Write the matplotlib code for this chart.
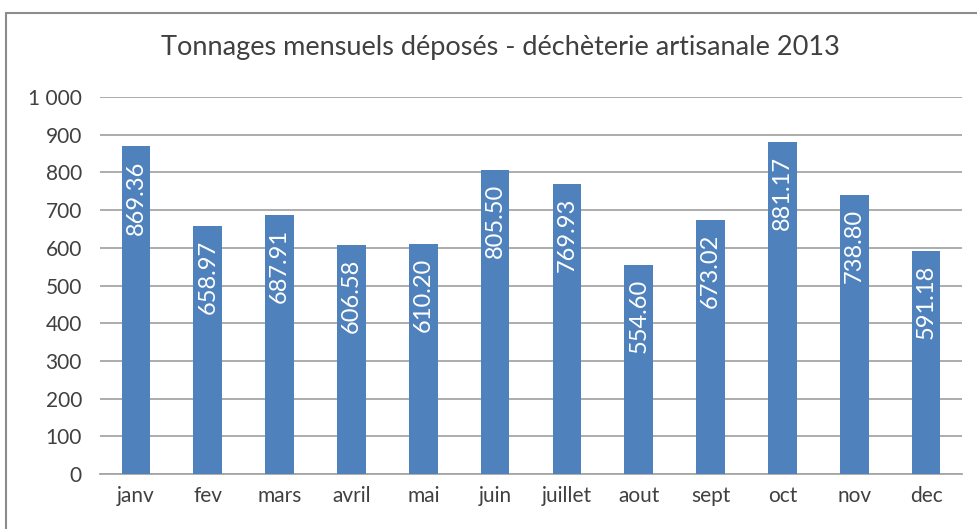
import matplotlib
matplotlib.use("Agg")
import matplotlib.pyplot as plt
from matplotlib.patches import Rectangle

# Monthly tonnages 2013
months = ["janv", "fev", "mars", "avril", "mai", "juin",
          "juillet", "aout", "sept", "oct", "nov", "dec"]
tonnages = [869.36, 658.97, 687.91, 606.58, 610.20, 805.50,
            769.93, 554.60, 673.02, 881.17, 738.80, 591.18]
y_ticks = [0, 100, 200, 300, 400, 500, 600, 700, 800, 900, 1000]
y_tick_labels = ["0", "100", "200", "300", "400", "500",
                 "600", "700", "800", "900", "1 000"]

plt.rcParams['font.family'] = ['Lato', 'DejaVu Sans']
text_col = "#404040"
bar_col = "#4F81BD"

fig = plt.figure(figsize=(9.77, 5.29), dpi=100)
ax = fig.add_axes([0.1024, 0.104, 0.8822, 0.7126])

# outer chart frame (cut off at right and bottom)
fig.patches.append(Rectangle((6 / 977, -0.1), 1.2, 1.1 - 13 / 529,
                             transform=fig.transFigure, fill=False,
                             edgecolor="#8C8C8C", linewidth=1.5))

x = range(len(months))
bars = ax.bar(x, tonnages, width=0.4, color=bar_col, zorder=3)

for xi, v in zip(x, tonnages):
    ax.annotate(f"{v:.2f}", (xi, v), xytext=(0, -10), textcoords="offset points",
                rotation=90, ha="center", va="top", color="white",
                fontsize=17, zorder=4)

ax.set_xlim(-0.5, len(months) - 0.5)
ax.set_ylim(0, 1000)
ax.set_yticks(y_ticks)
ax.set_yticklabels(y_tick_labels)
ax.set_xticks(list(x))
ax.set_xticklabels(months)
ax.tick_params(axis="y", length=0, pad=13, labelsize=15, labelcolor=text_col)
ax.tick_params(axis="x", length=0, pad=9, labelsize=15, labelcolor=text_col)
ax.grid(axis="y", color="#A6A6A6", linewidth=1.3, zorder=0)
for s in ["top", "right", "left"]:
    ax.spines[s].set_visible(False)
ax.spines["bottom"].set_color("#A6A6A6")
ax.spines["bottom"].set_linewidth(1.3)

fig.text(0.512, 1 - 48 / 529, "Tonnages mensuels déposés - déchèterie artisanale 2013",
         ha="center", va="center", fontsize=19.5, color=text_col)

fig.savefig("out.png", dpi=100)
